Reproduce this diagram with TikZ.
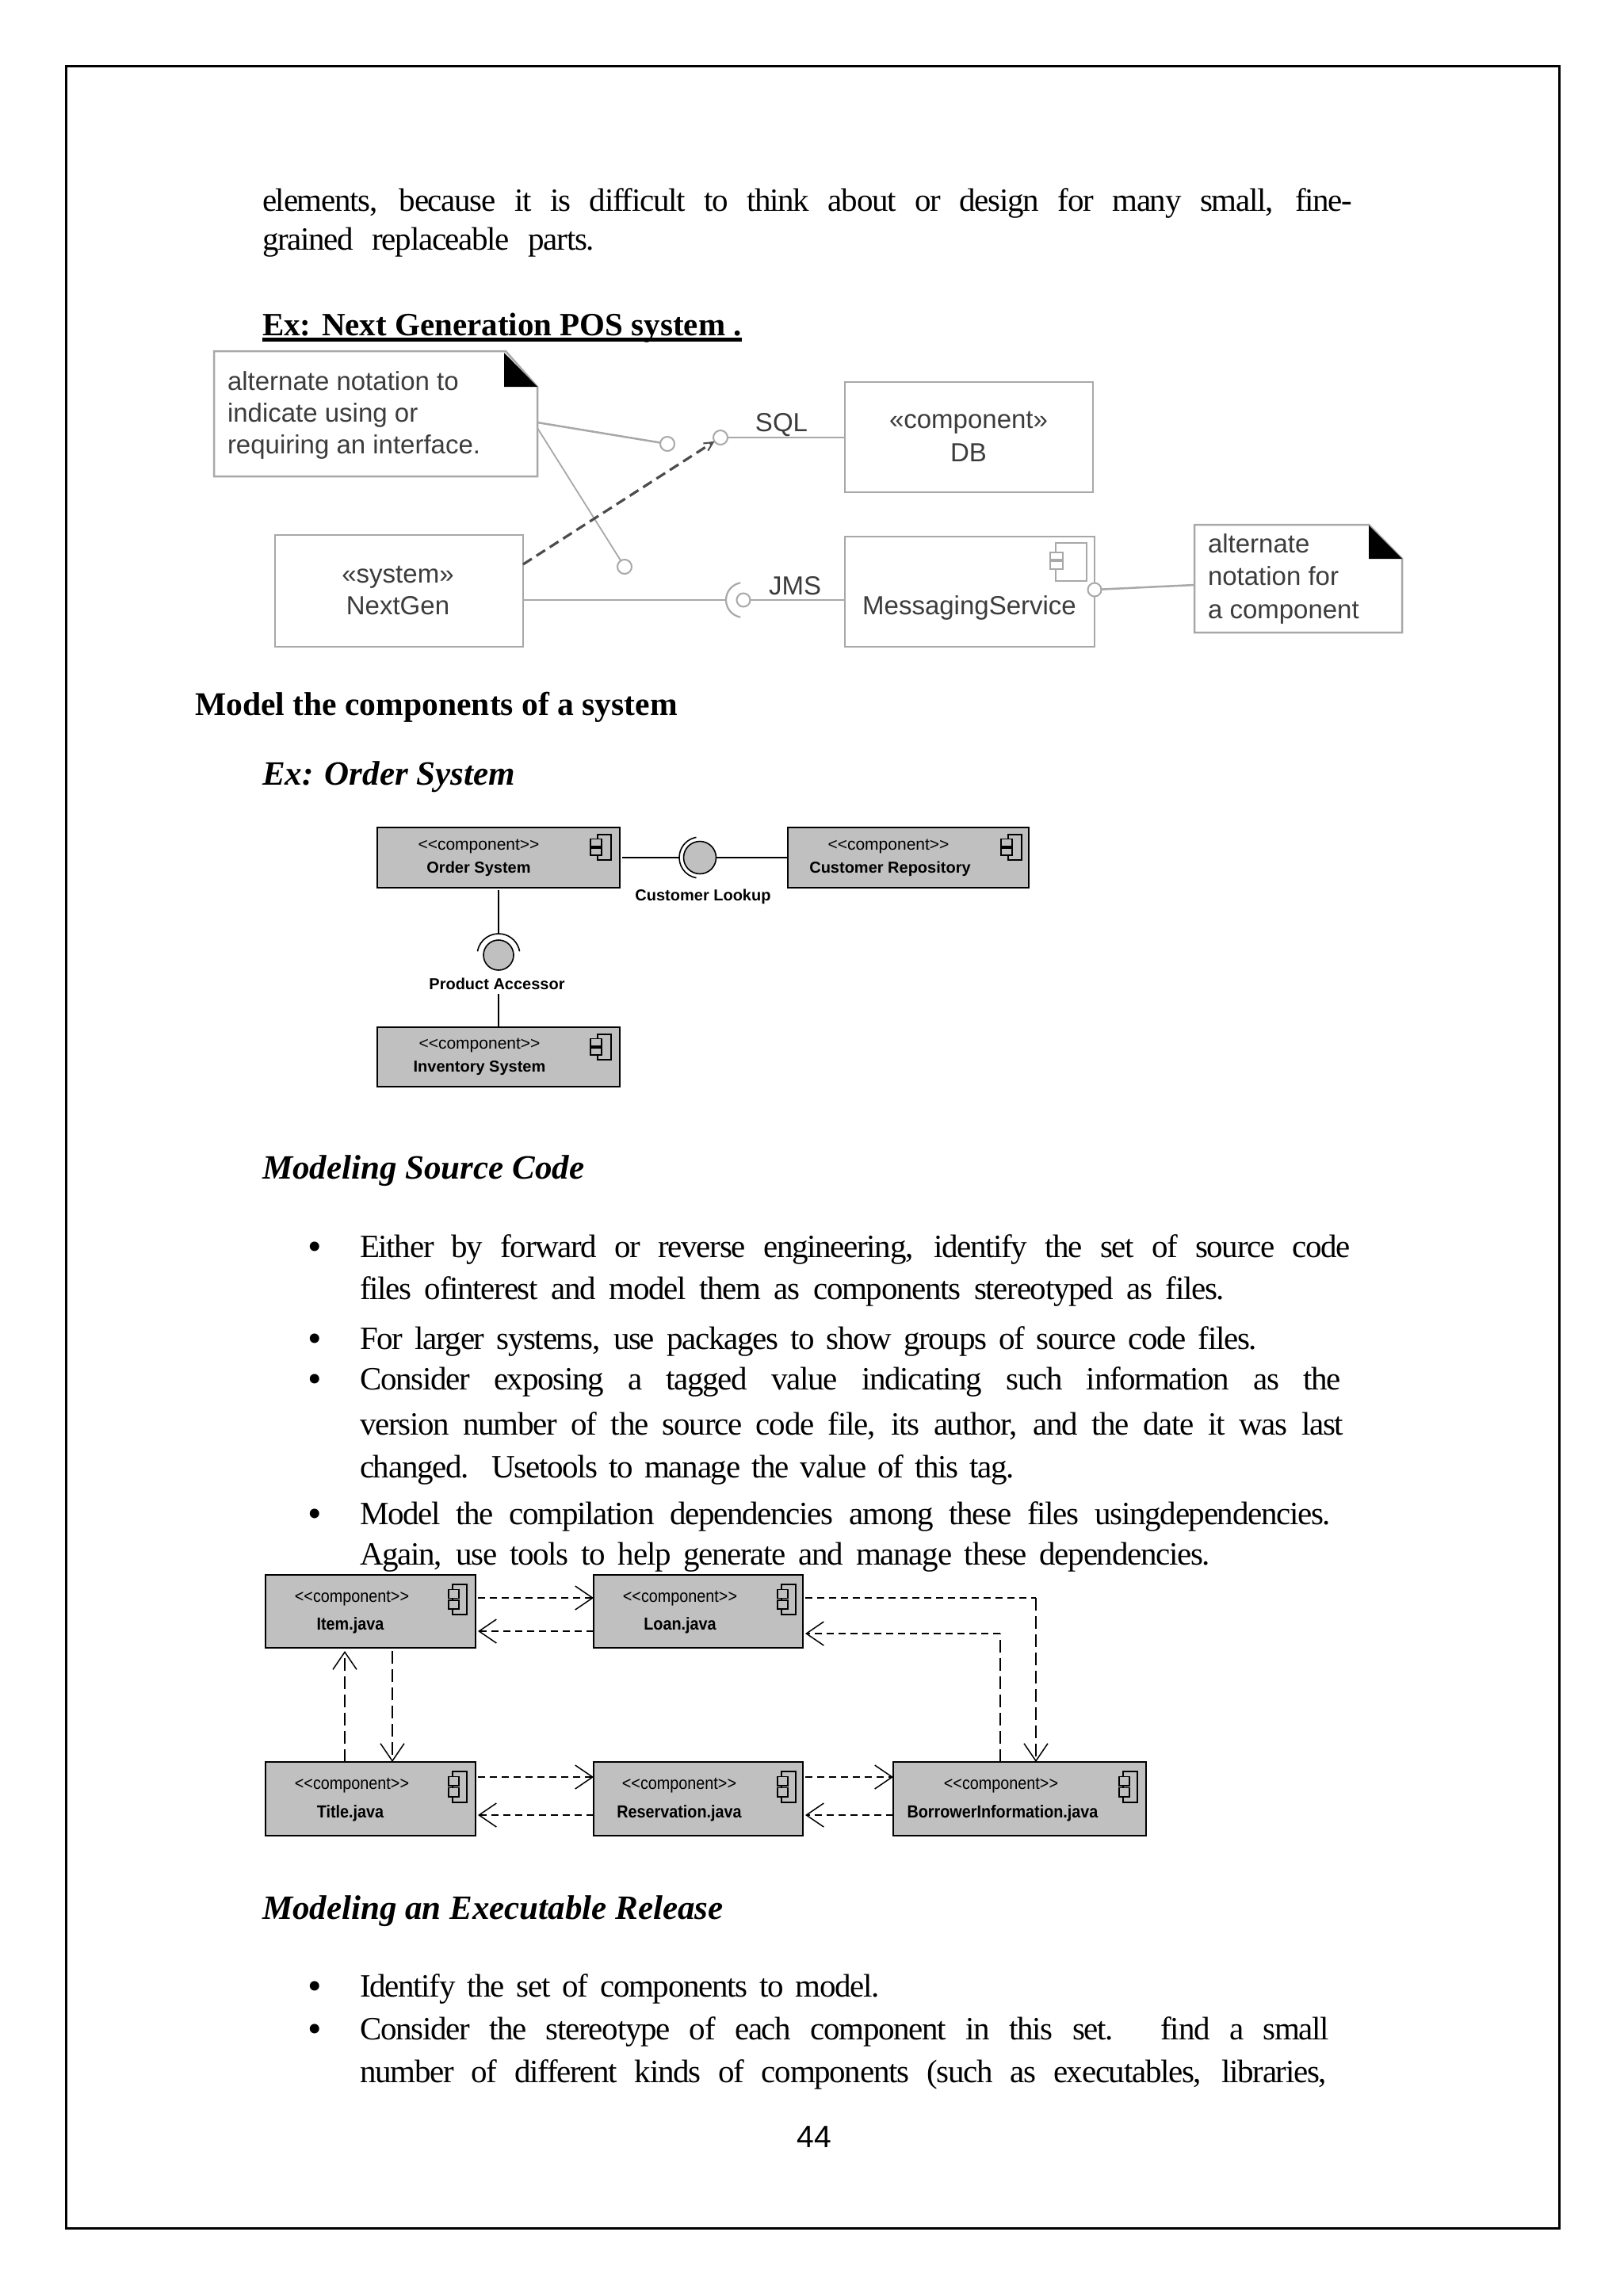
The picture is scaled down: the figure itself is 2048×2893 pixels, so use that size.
\documentclass[tikz,border=0pt]{standalone}
\usepackage{fontspec}
\setmainfont{Liberation Serif}
\newfontfamily\bodyf[LetterSpace=-3.2]{Liberation Serif}
\newfontfamily\sansf{Liberation Sans}
\newfontfamily\condf[FakeStretch=0.9]{Liberation Sans}
\usetikzlibrary{arrows.meta,calc}
\definecolor{boxgray}{HTML}{C0C0C0}
\definecolor{blurtext}{HTML}{3C3C3C}
\definecolor{blurline}{HTML}{A8A8A8}
\tikzset{
  txt/.style={inner sep=0pt,outer sep=0pt,anchor=base},
  body/.style={txt,anchor=base west,font=\bodyf\fontsize{41}{41}\selectfont},
  bullet/.style={txt,font=\fontsize{50}{50}\selectfont},
  headb/.style={txt,anchor=base west,font=\fontsize{41}{41}\selectfont\bfseries},
  headm/.style={txt,anchor=base west,font=\fontsize{41.6}{42}\selectfont\bfseries},
  headi/.style={txt,anchor=base west,font=\fontsize{43}{43}\selectfont\bfseries\itshape},
  pagenum/.style={txt,font=\sansf\fontsize{39}{39}\selectfont},
  blur/.style={txt,text=blurtext,font=\sansf\fontsize{33}{33}\selectfont},
  blurleft/.style={blur,anchor=base west},
  comptype/.style={txt,font=\sansf\fontsize{21}{21}\selectfont},
  compname/.style={txt,font=\sansf\bfseries\fontsize{20}{20}\selectfont},
  condtype/.style={txt,font=\condf\fontsize{22}{22}\selectfont},
  condname/.style={txt,font=\condf\bfseries\fontsize{22}{22}\selectfont},
  greybox/.style={draw=black,line width=2.5pt,fill=boxgray,inner sep=0pt,outer sep=0pt},
  plainbox/.style={draw=blurline,line width=2.5pt,fill=white,inner sep=0pt,outer sep=0pt},
  ghost/.style={inner sep=0pt,outer sep=0pt},
  wire/.style={line width=1.6pt,draw=black},
  softwire/.style={line width=2.5pt,draw=blurline},
  ball/.style={circle,draw=black,line width=1.6pt,fill=boxgray,inner sep=0pt,outer sep=0pt},
  softball/.style={circle,draw=blurline,line width=2pt,fill=white,inner sep=0pt,outer sep=0pt,minimum size=18pt},
  iconline/.style={draw=black,line width=1.6pt},
  depH/.style={draw=black,line width=2.4pt,dash pattern=on 9pt off 6pt},
  depV/.style={draw=black,line width=1.3pt,dash pattern=on 16pt off 7pt},
  tipopen/.style={-{Straight Barb[length=22pt,width=30pt,line width=1.5pt]}},
}
\newcommand{\tl}[5]{\node[body] (#1) at (#2,#3) {\spaceskip=.2em plus 20em minus .2em\makebox[\dimexpr#4pt-#2pt\relax][s]{#5}};}
% main rectangle x, y, w, h; small-rectangle overhang and width
\newcommand{\uicon}[6]{%
  \draw[iconline] (#1,#2) rectangle ++(#3,#4);
  \draw[iconline,fill=boxgray] ({#1-#5},{#2+.17*#4}) rectangle ++(#6,{.29*#4});
  \draw[iconline,fill=boxgray] ({#1-#5},{#2+.53*#4}) rectangle ++(#6,{.29*#4});
}
\begin{document}
\begin{tikzpicture}[x=1pt,y=-1pt]
\useasboundingbox (0,0) rectangle (2048,2893);
\fill[white] (0,0) rectangle (2048,2893);
\node[draw=black,line width=3pt,minimum width=1884pt,minimum height=2728pt,inner sep=0pt,outer sep=0pt] (frame) at (1025,1447.5) {};

% body text
\tl{l1}{331}{266}{1706}{elements, because it is difficult to think about or design for many small, fine-}
\tl{l2}{331}{315}{750}{grained replaceable parts.}
\node[headb] (poshead) at (331,423) {Ex: Next Generation POS system .};
\draw[line width=5pt] ([yshift=-5.5pt]poshead.base west) -- ([yshift=-5.5pt]poshead.base east);

% POS diagram
\node[ghost,minimum width=408pt,minimum height=158pt] (noteA) at (474,522) {};
\draw[softwire] (270,443) -- (638,443) -- (678,488) -- (678,601) -- (270,601) -- cycle;
\fill[black] (636,445) -- (678,488) -- (636,488) -- cycle;
\node[blurleft] (noteA1) at (287,492) {alternate notation to};
\node[blurleft] (noteA2) at (287,532) {indicate using or};
\node[blurleft] (noteA3) at (287,572) {requiring an interface.};
\node[plainbox,minimum width=313pt,minimum height=139pt] (db) at (1222.5,551.5) {};
\node[blur] (dbT) at (1222,540) {«component»};
\node[blur] (dbN) at (1222,582) {DB};
\node[plainbox,minimum width=313pt,minimum height=141pt] (nextgen) at (503.5,745.5) {};
\node[blur] (ngT) at (502,735) {«system»};
\node[blur] (ngN) at (502,775) {NextGen};
\node[plainbox,minimum width=315pt,minimum height=139pt] (msg) at (1223.5,746.5) {};
\node[blur] (msgN) at (1223,775) {MessagingService};
\draw[softwire] (1332,685) rectangle (1371,733);
\draw[softwire,fill=white] (1325,697) rectangle (1341,706);
\draw[softwire,fill=white] (1325,708) rectangle (1341,718);
\node[ghost,minimum width=262pt,minimum height=136pt] (noteB) at (1638,730) {};
\draw[softwire] (1507,662) -- (1727,662) -- (1769,705) -- (1769,798) -- (1507,798) -- cycle;
\fill[black] (1727,663) -- (1769,705) -- (1727,705) -- cycle;
\node[blurleft] (noteB1) at (1524,697) {alternate};
\node[blurleft] (noteB2) at (1524,738) {notation for};
\node[blurleft] (noteB3) at (1524,780) {a component};
\node[softball] (sqlball) at (909,552) {};
\node[softball] (freeA) at (842,560) {};
\node[softball] (freeB) at (788,715) {};
\node[softball,minimum size=17pt] (msgball) at (1381,744) {};
\node[softball,minimum size=17pt] (jmsball) at (938,757) {};
\node[blur] (sql) at (986,544) {SQL};
\node[blur] (jms) at (1003,750) {JMS};
\draw[softwire] (sqlball) -- (db.west |- sqlball);
\draw[softwire] (noteA.east |- 0,533) -- (freeA);
\draw[softwire,line width=1.8pt] (noteA.east |- 0,540) -- (freeB);
\draw[softwire] (msgball) -- (noteB.west |- 0,738);
\draw[softwire] (nextgen.east |- jmsball) -- (916,757);
\draw[softwire] (jmsball) -- (msg.west |- jmsball);
\draw[draw=blurline,line width=2.2pt] ($(jmsball)+(100:22)$) arc[start angle=100,end angle=260,radius=22];
\draw[draw=black!70,line width=3.2pt,dash pattern=on 13pt off 7pt,-{Straight Barb[length=11pt,width=11pt,line width=2pt]}] (nextgen.east |- 0,712) -- (sqlball);

% headings
\node[headm] (modelhead) at (246,902) {Model the components of a system};
\node[headi] (orderhead) at (331,990) {Ex: Order System};

% Order system
\node[greybox,minimum width=306pt,minimum height=76pt] (order) at (629,1082) {};
\node[greybox,minimum width=304pt,minimum height=76pt] (custrepo) at (1146,1082) {};
\node[greybox,minimum width=306pt,minimum height=75pt] (inventory) at (629,1333.5) {};
\node[comptype] (orderT) at (604,1072) {<{}<component>{}>};
\node[compname] (orderN) at (604,1101) {Order System};
\node[comptype] (custT) at (1121,1072) {<{}<component>{}>};
\node[compname] (custN) at (1123,1101) {Customer Repository};
\node[comptype] (invT) at (605,1323) {<{}<component>{}>};
\node[compname] (invN) at (605,1352) {Inventory System};
\uicon{754}{1053}{17}{32}{9}{14}
\uicon{1272}{1053}{17}{32}{9}{14}
\uicon{754}{1305}{17}{32}{9}{14}
\node[ball,minimum size=41pt] (custball) at (883,1082) {};
\node[ball,minimum size=38pt] (prodball) at (629,1205) {};
\draw[wire] ($(custball)+(100:26)$) arc[start angle=100,end angle=260,radius=26];
\draw[wire] ($(prodball)+(190:27)$) arc[start angle=190,end angle=350,radius=27];
\draw[wire] (order.east) ++(3,0) -- (858,1082);
\draw[wire] (custball) -- (custrepo);
\draw[wire] (order.south -| prodball) ++(0,3) -- (629,1178);
\draw[wire] (inventory.north -| prodball) -- (629,1254);
\node[compname] (lookup) at (887,1136) {Customer Lookup};
\node[compname] (accessor) at (627,1248) {Product Accessor};

% source code
\node[headi] (srchead) at (331,1487) {Modeling Source Code};
\node[bullet] (b1) at (397,1589) {•};
\tl{l3}{454}{1586}{1704}{Either by forward or reverse engineering, identify the set of source code}
\tl{l4}{454}{1639}{1545}{files ofinterest and model them as components stereotyped as files.}
\node[bullet] (b2) at (397,1705) {•};
\tl{l5}{454}{1702}{1586}{For larger systems, use packages to show groups of source code files.}
\node[bullet] (b3) at (397,1756) {•};
\tl{l6}{454}{1753}{1692}{Consider exposing a tagged value indicating such information as the}
\tl{l7}{454}{1810}{1695}{version number of the source code file, its author, and the date it was last}
\tl{l8}{454}{1864}{1280}{changed. Usetools to manage the value of this tag.}
\node[bullet] (b4) at (397,1926) {•};
\tl{l9}{454}{1923}{1679}{Model the compilation dependencies among these files usingdependencies.}
\tl{l10}{454}{1974}{1527}{Again, use tools to help generate and manage these dependencies.}

% dependency diagram
\node[greybox,minimum width=265pt,minimum height=92pt] (item) at (467.5,2033) {};
\node[greybox,minimum width=264pt,minimum height=92pt] (loan) at (881,2033) {};
\node[greybox,minimum width=265pt,minimum height=93pt] (title) at (467.5,2269.5) {};
\node[greybox,minimum width=264pt,minimum height=93pt] (resv) at (881,2269.5) {};
\node[greybox,minimum width=319pt,minimum height=93pt] (borrow) at (1286.5,2269.5) {};
\node[condtype] (itemT) at (444,2021) {<{}<component>{}>};
\node[condname] (itemN) at (442,2056) {Item.java};
\node[condtype] (loanT) at (858,2021) {<{}<component>{}>};
\node[condname] (loanN) at (858,2056) {Loan.java};
\node[condtype] (titleT) at (444,2257) {<{}<component>{}>};
\node[condname] (titleN) at (442,2293) {Title.java};
\node[condtype] (resvT) at (857,2257) {<{}<component>{}>};
\node[condname] (resvN) at (857,2293) {Reservation.java};
\node[condtype] (borrowT) at (1263,2257) {<{}<component>{}>};
\node[condname] (borrowN) at (1265,2293) {BorrowerInformation.java};
\uicon{571}{1999}{18}{38}{5}{13}
\uicon{986}{1999}{18}{38}{5}{13}
\uicon{571}{2235}{18}{39}{5}{13}
\uicon{986}{2235}{18}{39}{5}{13}
\uicon{1417}{2235}{18}{39}{5}{13}
\coordinate (c1) at (1307,2016);
\coordinate (c2) at (1262,2061);
\draw[depH,tipopen] ([xshift=3pt]item.east |- 0,2016) -- (loan.west |- 0,2016);
\draw[depH,tipopen] (loan.west |- 0,2058) -- ([xshift=3pt]item.east |- 0,2058);
\draw[depH] ([xshift=3pt]loan.east |- c1) -- (c1);
\draw[depV,tipopen] (c1) -- (borrow.north -| c1);
\draw[depV] (borrow.north -| c2) -- (c2);
\draw[depH,tipopen] (c2) -- ([xshift=3pt]loan.east |- c2);
\draw[depV,tipopen] (title.north -| 435,0) -- ([yshift=-4pt]item.south -| 435,0);
\draw[depV,tipopen] ([yshift=-4pt]item.south -| 495,0) -- (title.north -| 495,0);
\draw[depH,tipopen] ([xshift=3pt]title.east |- 0,2242) -- (resv.west |- 0,2242);
\draw[depH,tipopen] (resv.west |- 0,2290) -- ([xshift=3pt]title.east |- 0,2290);
\draw[depH,tipopen] ([xshift=3pt]resv.east |- 0,2242) -- (borrow.west |- 0,2242);
\draw[depH,tipopen] (borrow.west |- 0,2290) -- ([xshift=3pt]resv.east |- 0,2290);

% executable
\node[headi] (exehead) at (331,2421) {Modeling an Executable Release};
\node[bullet] (b5) at (397,2522) {•};
\tl{l11}{454}{2519}{1110}{Identify the set of components to model.}
\node[bullet] (b6) at (397,2576) {•};
\tl{l12}{454}{2573}{1677}{Consider the stereotype of each component in this set. find a small}
\tl{l13}{454}{2627}{1674}{number of different kinds of components (such as executables, libraries,}
\node[pagenum] (pg) at (1027,2709) {44};
\end{tikzpicture}
\end{document}
